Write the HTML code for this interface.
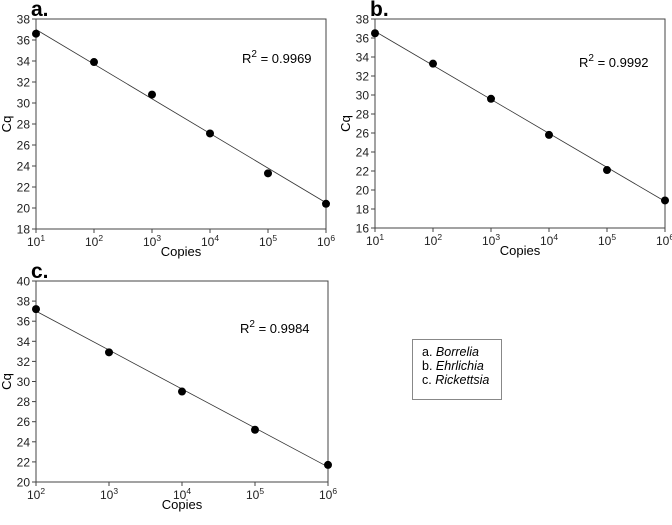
<!DOCTYPE html>
<html><head><meta charset="utf-8"><style>
body{margin:0;background:#fff;}
svg{display:block;font-family:"Liberation Sans",sans-serif;}
</style></head><body>
<svg id="s" width="672" height="525">
<g>
<rect x="412.5" y="339.5" width="89" height="60" fill="#fff" stroke="#888"/>
<text x="422" y="356" font-size="12.5">a. <tspan font-style="italic">Borrelia</tspan></text>
<text x="422" y="370" font-size="12.5">b. <tspan font-style="italic">Ehrlichia</tspan></text>
<text x="422" y="384" font-size="12.5">c. <tspan font-style="italic">Rickettsia</tspan></text>
</g>
</svg>
<script>
const expA=[1,2,3,4,5,6];
const cqA=[36.6,33.9,30.8,27.1,23.3,20.4];
const fitA=[37.0,20.5];
const expB=[1,2,3,4,5,6];
const cqB=[36.5,33.3,29.6,25.8,22.1,18.9];
const fitB=[36.7,18.8];
const expC=[2,3,4,5,6];
const cqC=[37.2,32.9,29.0,25.2,21.7];
const fitC=[37.0,21.5];
const yTicksA=[18,20,22,24,26,28,30,32,34,36,38];
const yTicksB=[16,18,20,22,24,26,28,30,32,34,36,38];
const yTicksC=[20,22,24,26,28,30,32,34,36,38,40];
const panels=[
 {id:'a',x0:36,x1:326,y0:19,y1:229,xe:[1,6],yr:[18,38],ex:expA,cq:cqA,fit:fitA,yt:yTicksA,r2:'0.9969',rx:242,ry:63},
 {id:'b',x0:375,x1:665,y0:19,y1:228,xe:[1,6],yr:[16,38],ex:expB,cq:cqB,fit:fitB,yt:yTicksB,r2:'0.9992',rx:579,ry:67},
 {id:'c',x0:36,x1:328,y0:281,y1:482,xe:[2,6],yr:[20,40],ex:expC,cq:cqC,fit:fitC,yt:yTicksC,r2:'0.9984',rx:240,ry:333}
];
const NS='http://www.w3.org/2000/svg';const svg=document.getElementById('s');
function mk(t,a,p){const e=document.createElementNS(NS,t);for(const k in a)e.setAttribute(k,a[k]);(p||svg).appendChild(e);return e;}
panels.forEach(P=>{
 const g=mk('g',{});
 
 
 const sx=v=>P.x0+(v-P.xe[0])/(P.xe[1]-P.xe[0])*(P.x1-P.x0);
 const sy=v=>P.y1-(v-P.yr[0])/(P.yr[1]-P.yr[0])*(P.y1-P.y0);
 const box=mk('rect',{x:P.x0,y:P.y0,width:P.x1-P.x0,height:P.y1-P.y0,fill:'none',stroke:'#444','stroke-width':1},g);
 
 
 P.yt.forEach(v=>{const y=sy(v);mk('line',{x1:P.x0-4,x2:P.x0,y1:y,y2:y,stroke:'#444'},g);
  const t=mk('text',{x:P.x0-6,y:y+4.5,'font-size':12,'text-anchor':'end',fill:'#222'},g);t.textContent=v;
  
  });
 for(let e=P.xe[0];e<=P.xe[1];e++){const x=sx(e);mk('line',{x1:x,x2:x,y1:P.y1,y2:P.y1+4,stroke:'#444'},g);
  const t=mk('text',{x:x,y:P.y1+17,'font-size':12,'text-anchor':'middle',fill:'#222'},g);t.innerHTML='10<tspan font-size="8.5" dy="-5">'+e+'</tspan>';
  
  }
 const xl=mk('text',{x:(P.x0+P.x1)/2,y:P.y1+27,'font-size':13,'text-anchor':'middle'},g);xl.textContent='Copies';
 
 
 const yl=mk('text',{x:0,y:0,'font-size':13,'text-anchor':'middle',transform:`translate(${P.x0-25},${(P.y0+P.y1)/2}) rotate(-90)`},g);yl.textContent='Cq';
 
 
 const lb=mk('text',{x:P.x0-5,y:P.y0-3,'font-size':21,'font-weight':'bold'},g);lb.textContent=P.id+'.';
 
 
 const fl=mk('line',{x1:sx(P.xe[0]),x2:sx(P.xe[1]),y1:sy(P.fit[0]),y2:sy(P.fit[1]),stroke:'#333','stroke-width':0.8},g);
 
 
 P.ex.forEach((e,i)=>{const c=mk('circle',{cx:sx(e),cy:sy(P.cq[i]),r:4,fill:'#000'},g);
  
  });
 const r=mk('text',{x:P.rx,y:P.ry,'font-size':13},g);r.innerHTML='R<tspan font-size="10" dy="-6">2</tspan><tspan dy="6"> = '+P.r2+'</tspan>';
 
 
});
</script>
</body></html>
